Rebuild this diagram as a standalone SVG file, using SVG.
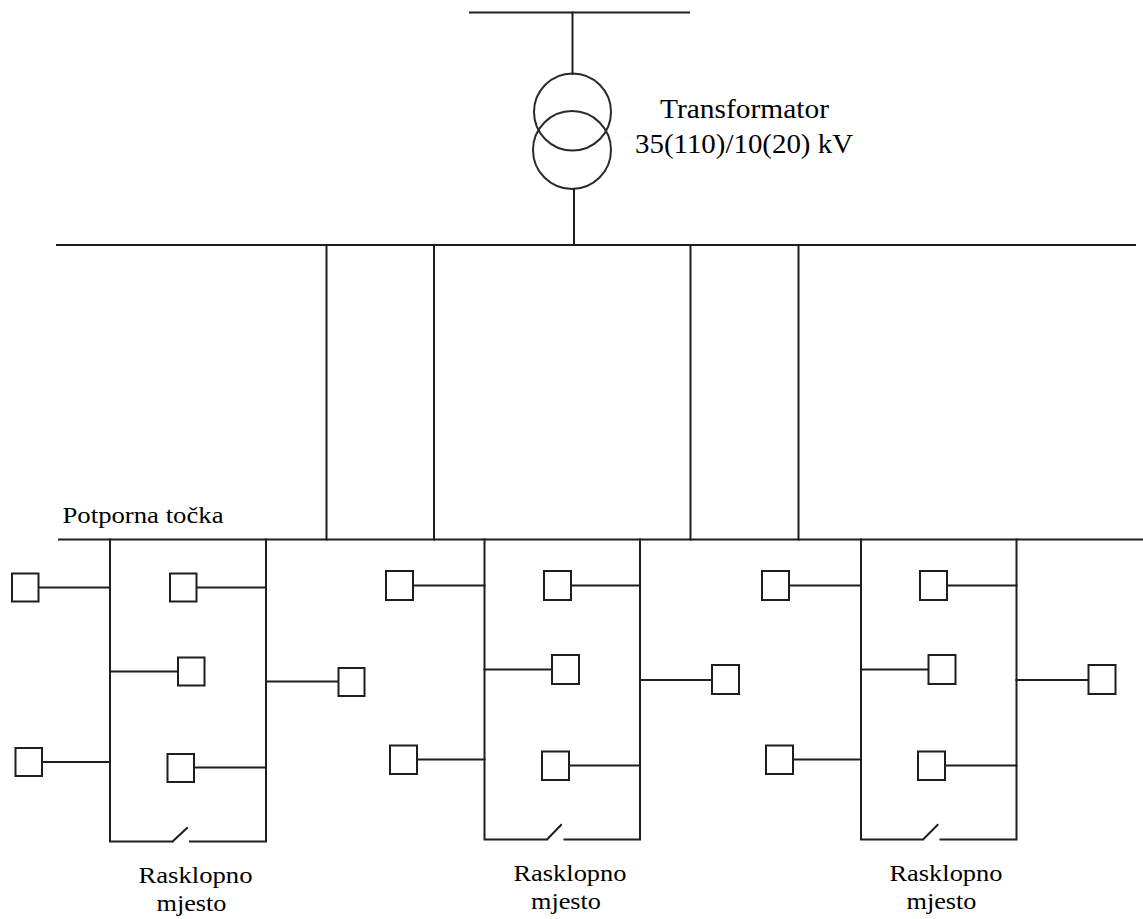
<svg xmlns="http://www.w3.org/2000/svg" width="1143" height="919" viewBox="0 0 1143 919">
<style>
.w{stroke:#1e1e1e;stroke-width:2;fill:none;stroke-linecap:square}
.c{stroke:#2a2a2a;stroke-width:2;fill:none}
.b{stroke:#1e1e1e;stroke-width:2;fill:#fff}
text{fill:#000;font-family:"Liberation Serif","DejaVu Serif",serif}
.tl{font-size:27px}
.tb{font-size:24px}
</style>
<rect width="1143" height="919" fill="#fff"/>
<g id="transformer">
<line class="w" x1="470" y1="12.5" x2="689" y2="12.5"/>
<line class="w" x1="572.5" y1="12.5" x2="572.5" y2="74"/>
<circle class="c" cx="572.5" cy="112" r="38.5"/>
<circle class="c" cx="572" cy="150" r="39"/>
<line class="w" x1="574" y1="189" x2="574" y2="245"/>
<text class="tl" x="660" y="118" textLength="169" lengthAdjust="spacingAndGlyphs">Transformator</text>
<text class="tl" x="635" y="152.5" textLength="218" lengthAdjust="spacingAndGlyphs">35(110)/10(20) kV</text>
</g>
<g id="connectors">
<line class="w" x1="57" y1="245" x2="1135" y2="245"/>
<line class="w" x1="326.5" y1="245" x2="326.5" y2="539.5"/>
<line class="w" x1="434" y1="245" x2="434" y2="539.5"/>
<line class="w" x1="690.5" y1="245" x2="690.5" y2="539.5"/>
<line class="w" x1="798.5" y1="245" x2="798.5" y2="539.5"/>
<line class="w" x1="59" y1="539.5" x2="1143" y2="539.5"/>
</g>
<g id="potporna-tocka">
<text class="tb" x="62.5" y="523" textLength="161" lengthAdjust="spacingAndGlyphs">Potporna točka</text>
</g>
<g id="rasklopno-mjesto-1">
<path class="w" d="M110 539.5V841.5H171M172.5 841.5L187 828M190 841.5H266V539.5"/>
<path class="w" d="M38 587.5H110M197 587.5H266M110 671.5H178M266 681.5H338M42 762H110M194 767.5H266"/>
<rect class="b" x="12" y="573.5" width="26.5" height="28"/>
<rect class="b" x="170" y="573.5" width="26.5" height="28"/>
<rect class="b" x="178" y="657.5" width="26.5" height="28"/>
<rect class="b" x="338.5" y="668" width="26" height="28"/>
<rect class="b" x="15.5" y="748" width="26.5" height="28"/>
<rect class="b" x="167.5" y="754" width="26.5" height="28"/>
<text class="tb" x="138.5" y="883" textLength="114" lengthAdjust="spacingAndGlyphs">Rasklopno</text>
<text class="tb" x="156.5" y="911" textLength="70" lengthAdjust="spacingAndGlyphs">mjesto</text>
</g>
<g id="rasklopno-mjesto-2">
<path class="w" d="M484.5 539.5V839.5H546M547 839.5L561 825M564.5 839.5H640V539.5"/>
<path class="w" d="M412.5 585.5H484.5M571 585.5H640M484.5 669.5H552M640 680H712M416.5 759.5H484.5M569 765.5H640"/>
<rect class="b" x="386" y="571" width="27" height="29"/>
<rect class="b" x="544" y="571" width="27" height="29"/>
<rect class="b" x="552" y="655" width="27" height="29"/>
<rect class="b" x="712" y="665" width="27" height="29"/>
<rect class="b" x="390" y="745.5" width="27" height="28.5"/>
<rect class="b" x="542" y="751.5" width="27" height="28.5"/>
<text class="tb" x="513.5" y="881" textLength="113" lengthAdjust="spacingAndGlyphs">Rasklopno</text>
<text class="tb" x="531" y="909" textLength="70" lengthAdjust="spacingAndGlyphs">mjesto</text>
</g>
<g id="rasklopno-mjesto-3">
<path class="w" d="M861 539.5V839.5H922M923 839.5L937.5 825M940.5 839.5H1016.5V539.5"/>
<path class="w" d="M789 585.5H861M947 585.5H1016.5M861 669.5H928.5M1016.5 680H1088.5M793 759.5H861M945 765.5H1016.5"/>
<rect class="b" x="762" y="571" width="27" height="29"/>
<rect class="b" x="920" y="571" width="27" height="29"/>
<rect class="b" x="928.5" y="655" width="27" height="29"/>
<rect class="b" x="1088.5" y="665" width="27" height="29"/>
<rect class="b" x="766" y="745.5" width="27" height="28.5"/>
<rect class="b" x="918" y="751.5" width="27" height="28.5"/>
<text class="tb" x="889.5" y="881" textLength="113" lengthAdjust="spacingAndGlyphs">Rasklopno</text>
<text class="tb" x="906.5" y="909" textLength="70" lengthAdjust="spacingAndGlyphs">mjesto</text>
</g>
</svg>
